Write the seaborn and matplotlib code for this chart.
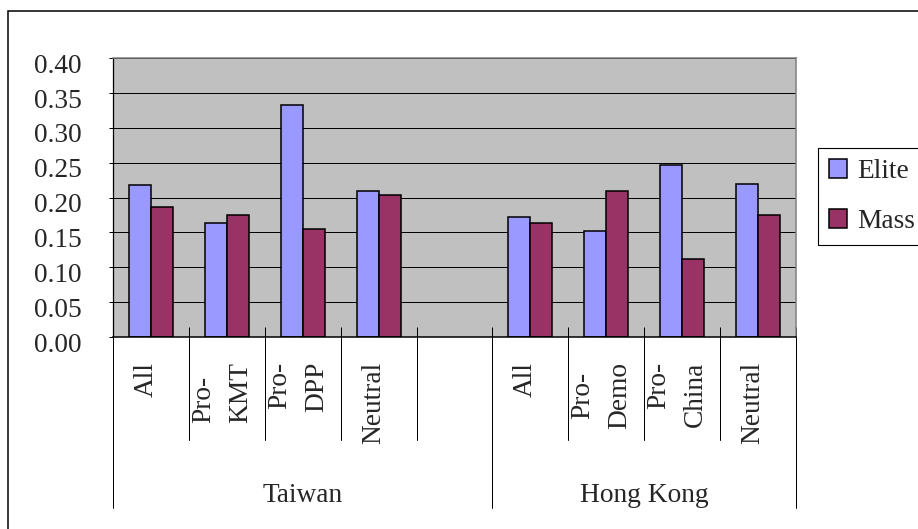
import numpy as np
import pandas as pd
import matplotlib
matplotlib.use("Agg")
import matplotlib.pyplot as plt
import seaborn as sns
from matplotlib.patches import Rectangle, Patch
from matplotlib.transforms import ScaledTranslation

# ---- data ----
regions = ["Taiwan", "Hong Kong"]
taiwan_groups = ["All", "Pro-\nKMT", "Pro-\nDPP", "Neutral"]
hk_groups = ["All", "Pro-\nDemo", "Pro-\nChina", "Neutral"]
series = ["Elite", "Mass"]
taiwan_elite = [0.218, 0.164, 0.333, 0.209]
taiwan_mass = [0.187, 0.175, 0.155, 0.204]
hk_elite = [0.172, 0.152, 0.247, 0.220]
hk_mass = [0.164, 0.209, 0.112, 0.175]
yticks = [0.00, 0.05, 0.10, 0.15, 0.20, 0.25, 0.30, 0.35, 0.40]

colors = {"Elite": "#9999FF", "Mass": "#993366"}

# ---- long table, one slot per category plus a spacer after Taiwan ----
rows = []
for grp, e, m in zip(taiwan_groups, taiwan_elite, taiwan_mass):
    rows.append(("Taiwan|" + grp, "Elite", e))
    rows.append(("Taiwan|" + grp, "Mass", m))
for grp, e, m in zip(hk_groups, hk_elite, hk_mass):
    rows.append(("Hong Kong|" + grp, "Elite", e))
    rows.append(("Hong Kong|" + grp, "Mass", m))
df = pd.DataFrame(rows, columns=["slot", "series", "value"])

order = (["Taiwan|" + g for g in taiwan_groups] + ["Taiwan|"]
         + ["Hong Kong|" + g for g in hk_groups])
n_slots = len(order)

sns.set_theme(style="white")
plt.rcParams["font.family"] = ["Liberation Serif", "DejaVu Serif"]
FS = 19.7

W, H = 918, 529
fig = plt.figure(figsize=(W / 100, H / 100), dpi=100)
ax_l, ax_r, ax_t, ax_b = 113.3, 795.7, 58.3, 337.0
ax = fig.add_axes([ax_l / W, 1 - ax_b / H, (ax_r - ax_l) / W, (ax_b - ax_t) / H])
ax_h_px = ax_b - ax_t

sns.barplot(data=df, x="slot", y="value", hue="series", order=order,
            hue_order=series, palette=colors, width=0.58, saturation=1,
            edgecolor="black", linewidth=1.1, errorbar=None, ax=ax)

ax.set_facecolor("#C0C0C0")
ax.set_xlim(-0.5, n_slots - 0.5)
ax.set_ylim(0, 0.40)
ax.set_xlabel("")
ax.set_ylabel("")

# y axis
ax.set_yticks(yticks)
ax.set_yticklabels([f"{v:.2f}" for v in yticks], fontsize=FS)
ax.tick_params(axis="y", direction="out", length=2.9, width=0.72,
               color="black", pad=20, left=True)
shift = ScaledTranslation(0, -5 / 100, fig.dpi_scale_trans)
for lab in ax.get_yticklabels():
    lab.set_transform(lab.get_transform() + shift)
ax.yaxis.grid(True, color="black", linewidth=0.72)
ax.xaxis.grid(False)
ax.set_axisbelow(True)

# x axis: inward ticks at slot boundaries
bounds = np.arange(-0.5, n_slots, 1.0)
ax.set_xticks(bounds)
ax.set_xticklabels([""] * len(bounds))
ax.tick_params(axis="x", direction="in", length=7.2, width=0.72,
               color="black", bottom=True)

for side in ["top", "right"]:
    ax.spines[side].set_color("#808080")
    ax.spines[side].set_linewidth(1.1)
ax.spines["left"].set_color("black")
ax.spines["left"].set_linewidth(0.9)
ax.spines["bottom"].set_color("black")
ax.spines["bottom"].set_linewidth(1.1)

# divider lines below the axis
xt = ax.get_xaxis_transform()
group_bounds = {-0.5, 4.5, n_slots - 0.5}
for b in bounds:
    depth = (508 - ax_b) if b in group_bounds else (440 - ax_b)
    ax.plot([b, b], [0, -depth / ax_h_px], transform=xt, color="black",
            linewidth=0.72, clip_on=False)

# category labels (rotated)
align = {"Pro-\nKMT": "left", "Pro-\nDemo": "center",
         "Pro-\nDPP": "right", "Pro-\nChina": "right"}
lab_shift = ScaledTranslation(-5 / 100, -(362 - ax_b) / 100, fig.dpi_scale_trans)
for i, key in enumerate(order):
    text = key.split("|", 1)[1]
    if not text:
        continue
    ax.text(i, 0, text, transform=xt + lab_shift, rotation=90,
            ha="center", va="top", fontsize=FS,
            multialignment=align.get(text, "center"), linespacing=1.65)

# region labels
reg_shift = ScaledTranslation(0, -(502 - ax_b) / 100, fig.dpi_scale_trans)
ax.text(2.0, 0, regions[0], transform=xt + reg_shift, ha="center",
        va="baseline", fontsize=FS)
ax.text(6.5, 0, regions[1], transform=xt + reg_shift, ha="center",
        va="baseline", fontsize=FS)

# legend
if ax.get_legend() is not None:
    ax.get_legend().remove()
handles = [Patch(facecolor=colors[s], edgecolor="black", linewidth=1.1)
           for s in series]
leg = fig.legend(handles, series, loc="upper left",
                 bbox_to_anchor=(817.7 / W, 1 - 148 / H),
                 bbox_transform=fig.transFigure, frameon=True, fancybox=False,
                 edgecolor="black", framealpha=1, borderpad=0.4,
                 handlelength=0.66, handleheight=0.7, handletextpad=0.4,
                 labelspacing=0.9, borderaxespad=0, fontsize=FS)
leg.get_frame().set_linewidth(0.8)

# outer chart border
fig.add_artist(Rectangle((8 / W, -0.05), 1.2, 1 - 10.7 / H + 0.05,
                         transform=fig.transFigure, fill=False,
                         edgecolor="black", linewidth=1.1))

fig.savefig("out.png", dpi=100, facecolor="white")
